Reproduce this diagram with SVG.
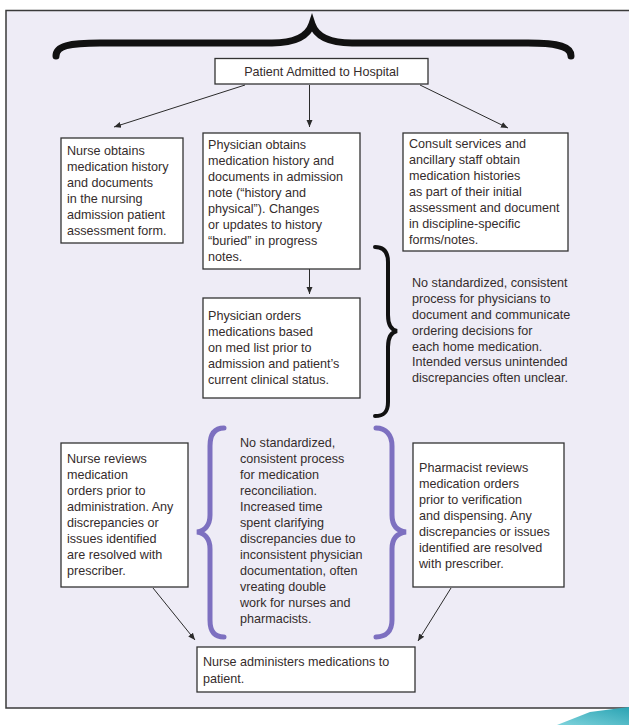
<svg xmlns="http://www.w3.org/2000/svg" width="629" height="725" viewBox="0 0 629 725">
<defs>
<marker id="ah" markerWidth="8" markerHeight="8" refX="7" refY="4" orient="auto" markerUnits="userSpaceOnUse">
<path d="M0,1 L7,4 L0,7 Z" fill="#2b2b2b"/>
</marker>
<linearGradient id="teal" x1="0" y1="1" x2="1" y2="0">
<stop offset="0" stop-color="#7fd3dc"/>
<stop offset="1" stop-color="#2aa3b3"/>
</linearGradient>
<style>
.box{fill:#ffffff;stroke:#333333;stroke-width:1.3}
.t{font-family:"Liberation Sans",Arial,sans-serif;font-size:12.6px;fill:#352c2c}
.c{stroke:#2b2b2b;stroke-width:1;fill:none;marker-end:url(#ah)}
.bk{fill:none;stroke:#111111;stroke-linecap:round}
.pu{fill:none;stroke:#7d70c0;stroke-width:5;stroke-linecap:round}
</style>
</defs>
<rect x="0" y="0" width="629" height="725" fill="#ffffff"/>
<rect x="6" y="10.5" width="640" height="697.5" fill="#eeecf6" stroke="#3a3a3a" stroke-width="1.5"/>
<polygon points="557,725 590,712 629,707 629,725" fill="url(#teal)"/>

<g id="braces">
<path class="bk" stroke-width="7" d="M56,56 C56,46 69,43 100,43 L272,43 C296,43 308,36 312,24 C316,36 328,43 352,43 L528,43 C560,43 571,47 571,56"/>
<path class="bk" stroke-width="4" d="M375,247 C384,247 388,252 388,262 L388,315 C388,325 392,330 397,331 C392,332 388,337 388,347 L388,402 C388,412 384,416 375,416"/>
<path class="pu" d="M224,428 C214,428 210,435 210,446 L210,515 C210,526 204,531 197,532 C204,533 210,538 210,549 L210,620 C210,631 214,637 224,637"/>
<path class="pu" d="M376,428 C386,428 392,435 392,446 L392,515 C392,526 398,531 406,532 C398,533 392,538 392,549 L392,620 C392,631 386,637 376,637"/>
</g>

<g id="connectors">
<line class="c" x1="245" y1="85" x2="114" y2="127"/>
<line class="c" x1="309.5" y1="85" x2="309.5" y2="127"/>
<line class="c" x1="420" y1="85" x2="508" y2="128"/>
<line class="c" x1="309.5" y1="269" x2="309.5" y2="294"/>
<line class="c" x1="153" y1="588" x2="195" y2="640"/>
<line class="c" x1="451" y1="588" x2="418" y2="641"/>
</g>

<g id="admitted">
<rect class="box" x="215" y="58.5" width="213" height="25.5"/>
<text class="t" x="321.5" y="75.5" text-anchor="middle">Patient Admitted to Hospital</text>
</g>

<g id="nurse-obtains">
<rect class="box" x="61" y="138" width="122" height="105"/>
<text class="t" x="67" y="155">Nurse obtains</text>
<text class="t" x="67" y="171">medication history</text>
<text class="t" x="67" y="187">and documents</text>
<text class="t" x="67" y="203">in the nursing</text>
<text class="t" x="67" y="219">admission patient</text>
<text class="t" x="67" y="235">assessment form.</text>
</g>

<g id="physician-obtains">
<rect class="box" x="203" y="133" width="157" height="136"/>
<text class="t" x="208" y="149">Physician obtains</text>
<text class="t" x="208" y="165">medication history and</text>
<text class="t" x="208" y="181">documents in admission</text>
<text class="t" x="208" y="197">note (“history and</text>
<text class="t" x="208" y="213">physical”). Changes</text>
<text class="t" x="208" y="229">or updates to history</text>
<text class="t" x="208" y="245">“buried” in progress</text>
<text class="t" x="208" y="261">notes.</text>
</g>

<g id="consult">
<rect class="box" x="403" y="133" width="165" height="118"/>
<text class="t" x="409" y="148">Consult services and</text>
<text class="t" x="409" y="164">ancillary staff obtain</text>
<text class="t" x="409" y="180">medication histories</text>
<text class="t" x="409" y="196">as part of their initial</text>
<text class="t" x="409" y="212">assessment and document</text>
<text class="t" x="409" y="228">in discipline-specific</text>
<text class="t" x="409" y="244">forms/notes.</text>
</g>

<g id="physician-orders">
<rect class="box" x="203" y="298" width="157" height="100"/>
<text class="t" x="208" y="320">Physician orders</text>
<text class="t" x="208" y="336">medications based</text>
<text class="t" x="208" y="352">on med list prior to</text>
<text class="t" x="208" y="368">admission and patient’s</text>
<text class="t" x="208" y="384">current clinical status.</text>
</g>

<g id="note-physicians">
<text class="t" x="412" y="287">No standardized, consistent</text>
<text class="t" x="412" y="303">process for physicians to</text>
<text class="t" x="412" y="319">document and communicate</text>
<text class="t" x="412" y="335">ordering decisions for</text>
<text class="t" x="412" y="351">each home medication.</text>
<text class="t" x="412" y="366">Intended versus unintended</text>
<text class="t" x="412" y="382">discrepancies often unclear.</text>
</g>

<g id="note-reconciliation">
<text class="t" x="240" y="447">No standardized,</text>
<text class="t" x="240" y="463">consistent process</text>
<text class="t" x="240" y="479">for medication</text>
<text class="t" x="240" y="495">reconciliation.</text>
<text class="t" x="240" y="511">Increased time</text>
<text class="t" x="240" y="527">spent clarifying</text>
<text class="t" x="240" y="543">discrepancies due to</text>
<text class="t" x="240" y="559">inconsistent physician</text>
<text class="t" x="240" y="575">documentation, often</text>
<text class="t" x="240" y="591">vreating double</text>
<text class="t" x="240" y="607">work for nurses and</text>
<text class="t" x="240" y="623">pharmacists.</text>
</g>

<g id="nurse-reviews">
<rect class="box" x="61" y="443" width="127" height="144"/>
<text class="t" x="67" y="463">Nurse reviews</text>
<text class="t" x="67" y="479">medication</text>
<text class="t" x="67" y="495">orders prior to</text>
<text class="t" x="67" y="511">administration. Any</text>
<text class="t" x="67" y="527">discrepancies or</text>
<text class="t" x="67" y="543">issues identified</text>
<text class="t" x="67" y="559">are resolved with</text>
<text class="t" x="67" y="575">prescriber.</text>
</g>

<g id="pharmacist">
<rect class="box" x="413" y="443" width="151" height="144"/>
<text class="t" x="419" y="472">Pharmacist reviews</text>
<text class="t" x="419" y="488">medication orders</text>
<text class="t" x="419" y="504">prior to verification</text>
<text class="t" x="419" y="520">and dispensing. Any</text>
<text class="t" x="419" y="536">discrepancies or issues</text>
<text class="t" x="419" y="552">identified are resolved</text>
<text class="t" x="419" y="568">with prescriber.</text>
</g>

<g id="nurse-administers">
<rect class="box" x="197" y="647" width="218" height="45"/>
<text class="t" x="203" y="666">Nurse administers medications to</text>
<text class="t" x="203" y="683">patient.</text>
</g>
</svg>
